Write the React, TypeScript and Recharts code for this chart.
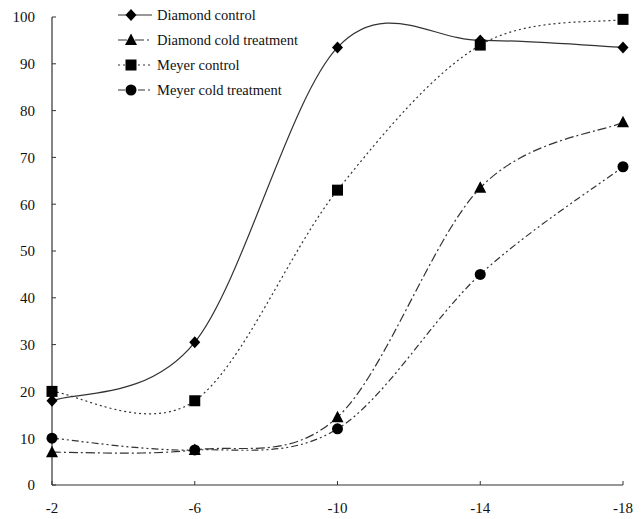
import { LineChart, Line, XAxis, YAxis, Legend } from "recharts";

const temps = ["-2", "-6", "-10", "-14", "-18"];
const diamondControl = [18, 30.5, 93.5, 95, 93.5];
const diamondCold = [7, 7.5, 14.5, 63.5, 77.5];
const meyerControl = [20, 18, 63, 94, 99.5];
const meyerCold = [10, 7.5, 12, 45, 68];
const yTicks = [0, 10, 20, 30, 40, 50, 60, 70, 80, 90, 100];

const data = temps.map((t, i) => ({
  t,
  dc: diamondControl[i],
  dct: diamondCold[i],
  mc: meyerControl[i],
  mct: meyerCold[i],
}));

// spreadsheet-style smoothed line (catmull-rom as bezier)
function smooth(context: any) {
  let pts: number[][] = [];
  return {
    areaStart() {},
    areaEnd() {},
    lineStart() {
      pts = [];
    },
    point(x: number, y: number) {
      pts.push([+x, +y]);
    },
    lineEnd() {
      const n = pts.length;
      if (!n) return;
      context.moveTo(pts[0][0], pts[0][1]);
      for (let i = 0; i < n - 1; i++) {
        const p0 = pts[Math.max(i - 1, 0)];
        const p1 = pts[i];
        const p2 = pts[i + 1];
        const p3 = pts[Math.min(i + 2, n - 1)];
        const k = 1 / 6;
        context.bezierCurveTo(
          p1[0] + (p2[0] - p0[0]) * k,
          p1[1] + (p2[1] - p0[1]) * k,
          p2[0] - (p3[0] - p1[0]) * k,
          p2[1] - (p3[1] - p1[1]) * k,
          p2[0],
          p2[1]
        );
      }
    },
  };
}

type Shape = "diamond" | "triangle" | "square" | "circle";

function Marker({ cx, cy, shape }: { cx: number; cy: number; shape: Shape }) {
  if (cx == null || cy == null) return null;
  if (shape === "diamond")
    return <path d={`M${cx},${cy - 6}L${cx + 5.5},${cy}L${cx},${cy + 6}L${cx - 5.5},${cy}Z`} fill="#000" />;
  if (shape === "triangle")
    return <path d={`M${cx},${cy - 6.5}L${cx + 6},${cy + 5}L${cx - 6},${cy + 5}Z`} fill="#000" />;
  if (shape === "square") return <rect x={cx - 5.5} y={cy - 5.5} width={11} height={11} fill="#000" />;
  return <circle cx={cx} cy={cy} r={5.5} fill="#000" />;
}

const series = [
  { key: "dc", name: "Diamond control", shape: "diamond" as Shape, dash: undefined },
  { key: "dct", name: "Diamond cold treatment", shape: "triangle" as Shape, dash: "9 3 2 3" },
  { key: "mc", name: "Meyer control", shape: "square" as Shape, dash: "2 3" },
  { key: "mct", name: "Meyer cold treatment", shape: "circle" as Shape, dash: "7 3 2 3 2 3" },
];

function LegendBox() {
  return (
    <svg width={220} height={100} style={{ display: "block" }}>
      {series.map((s, i) => {
        const y = 13 + i * 25;
        return (
          <g key={s.key}>
            <line x1={0} x2={34} y1={y} y2={y} stroke="#333" strokeWidth={1.2} strokeDasharray={s.dash} />
            <Marker cx={13} cy={y} shape={s.shape} />
            <text x={39} y={y + 5} fontSize={14.5} fontFamily="'Liberation Serif', serif" fill="#111">
              {s.name}
            </text>
          </g>
        );
      })}
    </svg>
  );
}

const tickStyle = { fontSize: 15, fill: "#111", fontFamily: "'Liberation Serif', serif" };

export default function App() {
  return (
    <div style={{ position: "absolute", left: 0, top: 0, width: 641, height: 519, background: "#fff" }}>
      <LineChart width={641} height={519} data={data} margin={{ top: 17, right: 18, left: 0, bottom: 0 }}>
        <XAxis
          dataKey="t"
          height={34}
          padding={{ left: 0, right: 0 }}
          stroke="#333"
          tickSize={-4}
          tickMargin={21}
          tick={tickStyle}
          axisLine={{ stroke: "#333", strokeWidth: 1.2 }}
          tickLine={{ stroke: "#333" }}
        />
        <YAxis
          width={52}
          domain={[0, 100]}
          ticks={yTicks}
          stroke="#333"
          tickSize={-4}
          tickMargin={21}
          tick={tickStyle}
          axisLine={{ stroke: "#333", strokeWidth: 1.2 }}
          tickLine={{ stroke: "#333" }}
        />
        <Legend
          layout="vertical"
          align="center"
          verticalAlign="middle"
          wrapperStyle={{ left: 118, top: 2, width: 220 }}
          content={() => <LegendBox />}
        />
        {series.map((s) => (
          <Line
            key={s.key}
            dataKey={s.key}
            name={s.name}
            type={smooth as any}
            stroke="#333"
            strokeWidth={1.2}
            strokeDasharray={s.dash}
            dot={(p: any) => <Marker key={p.index} cx={p.cx} cy={p.cy} shape={s.shape} />}
            activeDot={false}
            isAnimationActive={false}
          />
        ))}
      </LineChart>
    </div>
  );
}
